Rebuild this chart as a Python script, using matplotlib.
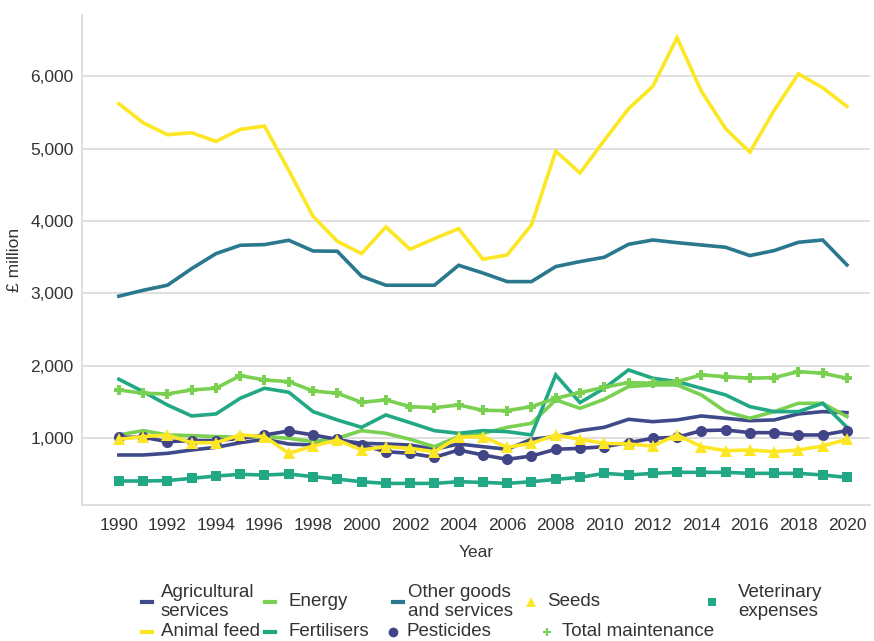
import matplotlib.pyplot as plt
from matplotlib.lines import Line2D

plt.rcParams['font.family'] = ['Liberation Sans', 'DejaVu Sans']

years = list(range(1990, 2021))

agricultural_services = [762, 762, 785, 831, 868, 932, 979, 914, 900, 970, 924, 914, 900, 841, 914, 877,
                         841, 979, 1016, 1099, 1145, 1256, 1223, 1247, 1302, 1270, 1237, 1247, 1330, 1362, 1348]
animal_feed = [5622, 5359, 5194, 5221, 5101, 5267, 5313, 4700, 4065, 3719, 3548, 3917, 3608, 3756, 3894, 3470,
               3530, 3945, 4967, 4663, 5115, 5553, 5862, 6535, 5797, 5277, 4953, 5530, 6037, 5843, 5585]
energy = [1039, 1099, 1039, 1030, 1016, 1007, 1016, 993, 947, 993, 1099, 1062, 979, 877, 1016, 1060,
          1145, 1200, 1524, 1408, 1533, 1708, 1731, 1731, 1593, 1362, 1270, 1362, 1477, 1477, 1293]
fertilisers = [1810, 1639, 1454, 1302, 1330, 1547, 1685, 1630, 1362, 1247, 1145, 1316, 1209, 1099, 1062, 1099,
               1085, 1039, 1870, 1487, 1685, 1939, 1824, 1777, 1685, 1593, 1431, 1362, 1362, 1477, 1145]
other_goods = [2959, 3041, 3111, 3341, 3548, 3664, 3673, 3733, 3585, 3581, 3235, 3111, 3111, 3111, 3387, 3280,
               3161, 3161, 3369, 3438, 3498, 3677, 3737, 3700, 3668, 3636, 3521, 3590, 3705, 3737, 3392]
pesticides = [1007, 1007, 947, 960, 960, 993, 1039, 1094, 1039, 979, 900, 808, 785, 730, 831, 762,
              702, 748, 841, 854, 877, 932, 993, 1007, 1099, 1108, 1071, 1071, 1039, 1039, 1099]
seeds = [979, 1016, 1039, 932, 932, 1039, 1016, 785, 886, 970, 831, 877, 854, 808, 1007, 1016,
         868, 924, 1039, 979, 924, 914, 886, 1039, 877, 822, 831, 808, 831, 886, 979]
total_maintenance = [1662, 1616, 1607, 1662, 1685, 1860, 1800, 1777, 1648, 1616, 1491, 1524, 1431, 1417, 1454, 1380,
                     1376, 1431, 1546, 1625, 1699, 1764, 1754, 1777, 1870, 1846, 1824, 1833, 1916, 1893, 1824]
veterinary = [402, 402, 408, 439, 471, 494, 485, 499, 462, 429, 392, 369, 369, 369, 392, 383,
              369, 392, 425, 452, 508, 485, 508, 522, 522, 522, 508, 508, 508, 485, 452]

# label, values, colour, marker, marker size in plot, marker size in legend
series = [
    ('Agricultural\nservices', agricultural_services, '#3f4a8a', None, 0, 0),
    ('Animal feed', animal_feed, '#fde725', None, 0, 0),
    ('Energy', energy, '#7ad151', None, 0, 0),
    ('Fertilisers', fertilisers, '#22a884', None, 0, 0),
    ('Other goods\nand services', other_goods, '#2a788e', None, 0, 0),
    ('Pesticides', pesticides, '#414487', 'o', 8, 7),
    ('Seeds', seeds, '#fde725', '^', 8, 7),
    ('Total maintenance', total_maintenance, '#7ad151', 'P', 6.5, 6),
    ('Veterinary\nexpenses', veterinary, '#22a884', 's', 7, 6),
]

fig = plt.figure(figsize=(8.74, 6.41), dpi=100)
ax = fig.add_axes([82 / 874, 1 - 505 / 641, (870 - 82) / 874, (505 - 15) / 641])

for label, vals, col, mk, ms, lms in series:
    ax.plot(years, vals, color=col, lw=2.6, marker=mk, markersize=ms,
            markeredgewidth=0, solid_joinstyle='miter')

ax.set_xlim(1988.48, 2020.95)
ax.set_ylim(70, 6850)
ax.set_xticks(range(1990, 2021, 2))
ax.set_yticks([1000, 2000, 3000, 4000, 5000, 6000])
ax.set_yticklabels(['1,000', '2,000', '3,000', '4,000', '5,000', '6,000'])
ax.grid(axis='y', color='#d9d9d9', lw=1.2)
ax.set_axisbelow(True)
for s in ['top', 'right']:
    ax.spines[s].set_visible(False)
for s in ['left', 'bottom']:
    ax.spines[s].set_color('#d9d9d9')
    ax.spines[s].set_linewidth(1.2)
ax.tick_params(axis='both', length=0, labelsize=12.5, labelcolor='#333333')
ax.tick_params(axis='x', pad=9)
ax.tick_params(axis='y', pad=6)
ax.set_xlabel('Year', fontsize=12.5, color='#333333', labelpad=9)
ax.set_ylabel('£ million', fontsize=12.5, color='#333333', labelpad=6)

# legend drawn by hand in figure pixels (two rows, plotly style)
leg_pos = [
    (147, 161, 602), (147, 161, 632),
    (270, 288, 602), (270, 288, 632),
    (398, 408, 602), (393, 406, 632),
    (531, 547, 602), (547, 562, 632),
    (712, 738, 602),
]
W, H = 874, 641
for (label, vals, col, mk, ms, lms), (hx, tx, y) in zip(series, leg_pos):
    fy = 1 - y / H
    if mk is None:
        fig.add_artist(Line2D([(hx - 5) / W, (hx + 5) / W], [fy, fy], color=col, lw=3,
                              transform=fig.transFigure))
    else:
        fig.add_artist(Line2D([hx / W], [fy], color=col, marker=mk, markersize=lms,
                              markeredgewidth=0, transform=fig.transFigure))
    fig.text(tx / W, fy, label, fontsize=13.5, color='#333333', va='center', ha='left',
             linespacing=1.22)

fig.savefig('out.png', dpi=100)
